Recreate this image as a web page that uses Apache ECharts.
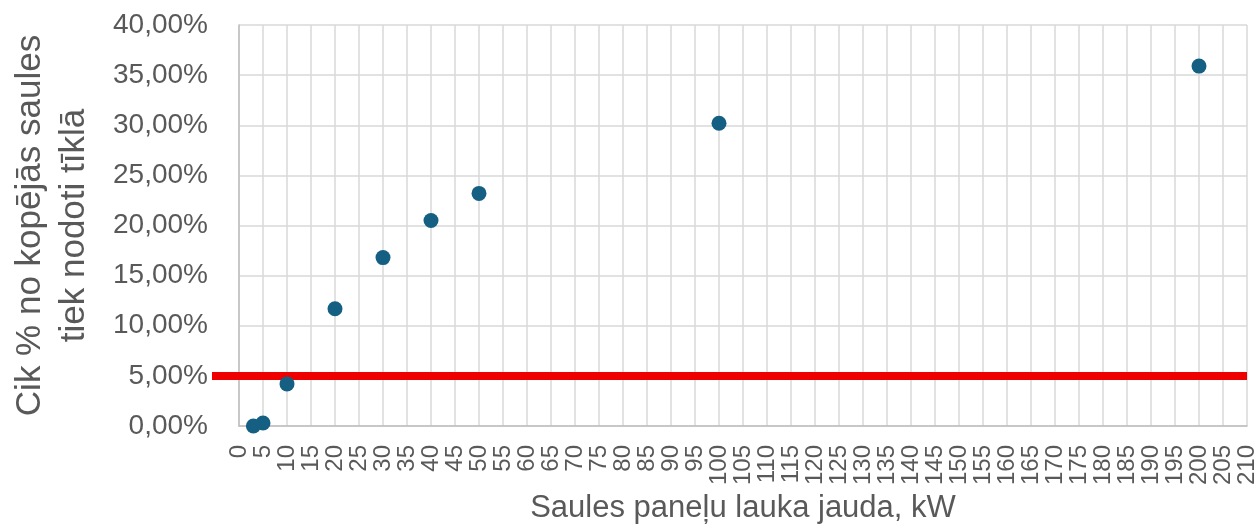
<!DOCTYPE html>
<html>
<head>
<meta charset="utf-8">
<script src="https://cdn.jsdelivr.net/npm/echarts@6/dist/echarts.min.js"></script>
<style>
  html, body { margin: 0; padding: 0; background: #ffffff; }
  #chart { width: 1258px; height: 524px; }
</style>
</head>
<body>
<div id="chart"></div>
<script>
// Installed capacity of the solar array, kW
const capacityKw = [3, 5, 10, 20, 30, 40, 50, 100, 200];
// Share of total solar output exported to the grid, %
const exportedSharePct = [0, 0.3, 4.2, 11.7, 16.8, 20.5, 23.2, 30.2, 35.9];
// Threshold line, %
const thresholdPct = 5;

const xName = 'Saules paneļu lauka jauda, kW';
const yName = 'Cik % no kopējās saules\ntiek nodoti tīklā';

const FONT = "'Liberation Sans', Arial, sans-serif";
const TEXT = '#595959';

const points = capacityKw.map((x, i) => [x, exportedSharePct[i]]);

const chart = echarts.init(document.getElementById('chart'), null, { renderer: 'canvas' });

chart.setOption({
  animation: false,
  backgroundColor: '#ffffff',
  textStyle: { fontFamily: FONT },
  grid: [
    { left: 239, right: 11, top: 25, bottom: 98, containLabel: false, outerBoundsMode: 'none' },
    // wider twin grid so the threshold line runs past the value axis
    { left: 212, right: 11, top: 25, bottom: 98, containLabel: false, outerBoundsMode: 'none' }
  ],
  xAxis: [
    {
      type: 'value',
      gridIndex: 0,
      min: 0,
      max: 210,
      interval: 5,
      name: xName,
      nameLocation: 'middle',
      nameGap: 67,
      nameTextStyle: { fontFamily: FONT, fontSize: 31, color: TEXT },
      axisLine: { show: true, lineStyle: { color: '#bfbfbf', width: 1.5 } },
      axisTick: { show: false },
      splitLine: { show: true, lineStyle: { color: '#d9d9d9', width: 1.5 } },
      axisLabel: {
        rotate: 90,
        margin: 19,
        fontFamily: FONT,
        fontSize: 24,
        color: TEXT,
        showMinLabel: true,
        showMaxLabel: true
      }
    },
    { type: 'value', gridIndex: 1, min: 0, max: 1, show: false }
  ],
  yAxis: [
    {
      type: 'value',
      gridIndex: 0,
      min: 0,
      max: 40,
      interval: 5,
      name: yName,
      nameLocation: 'middle',
      nameGap: 143,
      nameTextStyle: { fontFamily: FONT, fontSize: 35, color: TEXT, lineHeight: 44 },
      axisLine: { show: true, lineStyle: { color: '#bfbfbf', width: 1.5 } },
      axisTick: { show: false },
      splitLine: { show: true, lineStyle: { color: '#d9d9d9', width: 1.5 } },
      axisLabel: {
        margin: 31,
        fontFamily: FONT,
        fontSize: 28,
        color: TEXT,
        formatter: v => v.toFixed(2).replace('.', ',') + '%'
      }
    },
    { type: 'value', gridIndex: 1, min: 0, max: 40, show: false }
  ],
  series: [
    {
      type: 'line',
      xAxisIndex: 1,
      yAxisIndex: 1,
      data: [[0, thresholdPct], [1, thresholdPct]],
      showSymbol: false,
      symbol: 'none',
      lineStyle: { color: '#ee0000', width: 8 },
      silent: true,
      z: 2
    },
    {
      type: 'scatter',
      xAxisIndex: 0,
      yAxisIndex: 0,
      data: points,
      symbol: 'circle',
      symbolSize: 15,
      itemStyle: { color: '#156082', opacity: 1 },
      z: 3
    }
  ]
});
</script>
</body>
</html>
